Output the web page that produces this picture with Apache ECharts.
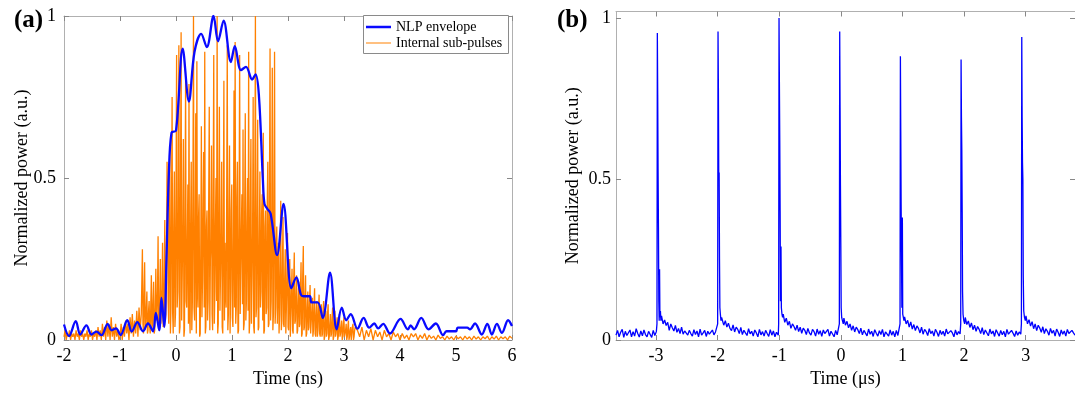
<!DOCTYPE html>
<html>
<head>
<meta charset="utf-8">
<script src="https://cdn.jsdelivr.net/npm/echarts@6/dist/echarts.min.js"></script>
<style>
html,body{margin:0;padding:0;background:#fff;}
#chart{width:1075px;height:393px;}
</style>
</head>
<body>
<div id="chart"></div>
<script>
// ---------- Panel (a): NLP envelope (time ns, normalized power) ----------
const envelope = [
  [-2.00,0.048],[-1.91,0.012],[-1.79,0.058],[-1.71,0.017],[-1.60,0.045],[-1.51,0.017],
  [-1.42,0.026],[-1.33,0.015],[-1.22,0.050],[-1.15,0.030],[-1.07,0.036],[-0.99,0.015],
  [-0.87,0.061],[-0.79,0.026],[-0.69,0.055],[-0.59,0.027],[-0.50,0.051],[-0.41,0.027],
  [-0.36,0.084],[-0.30,0.030],[-0.26,0.130],[-0.21,0.040],[-0.17,0.250],[-0.13,0.500],
  [-0.08,0.640],[0.00,0.646],[0.12,0.899],[0.23,0.736],[0.33,0.889],[0.45,0.945],
  [0.55,0.904],[0.67,1.000],[0.75,0.922],[0.85,0.986],[0.98,0.858],[1.05,0.907],
  [1.16,0.833],[1.25,0.843],[1.36,0.804],[1.42,0.820],[1.48,0.756],[1.55,0.500],
  [1.58,0.420],[1.63,0.405],[1.69,0.390],[1.805,0.262],[1.92,0.420],[2.06,0.160],
  [2.15,0.193],[2.23,0.140],[2.28,0.135],[2.39,0.135],[2.42,0.116],[2.53,0.116],
  [2.62,0.068],[2.75,0.208],[2.87,0.033],[2.96,0.100],[3.04,0.061],[3.12,0.080],
  [3.24,0.035],[3.35,0.068],[3.45,0.038],[3.54,0.051],[3.61,0.036],[3.70,0.050],
  [3.82,0.020],[4.01,0.065],[4.14,0.033],[4.19,0.045],[4.25,0.033],[4.38,0.068],
  [4.51,0.033],[4.64,0.051],[4.77,0.015],[4.83,0.027],[5.00,0.027],[5.03,0.038],
  [5.20,0.038],[5.25,0.033],[5.34,0.051],[5.46,0.017],[5.56,0.050],[5.64,0.017],
  [5.73,0.050],[5.82,0.022],[5.93,0.061],[6.00,0.043]
];

// ---------- Panel (a): internal sub-pulses, each segment spread evenly over its time range ----------
const subRanges = [[-2.00,-1.02],[-1.00,-0.62],[-0.60,-0.16],[-0.15,1.80],[1.81,3.20],[3.24,6.00]];
const subA = [0.01,0.03,0.00,0.02,0.01,0.03,0.00,0.02,0.01,0.02,0.00,0.03,0.01,0.02,0.00,0.03,0.01,
  0.02,0.00,0.02,0.01,0.03,0.00,0.02,0.01,0.03,0.00,0.02,0.01,0.03,0.00,0.04,0.01,0.03,0.00,0.05,
  0.01,0.04,0.00,0.06,0.01,0.05,0.00,0.07,0.01,0.04,0.00,0.05,0.01,0.03,0.00];
const subB1 = [0.01,0.05,0.00,0.04,0.01,0.06,0.02,0.05,0.00,0.07,0.02,0.08,0.01,0.06,0.02,0.09,
  0.01,0.10,0.03,0.08];
const subB2 = [0.28,0.05,0.02,0.14,0.24,0.03,0.05,0.10,0.15,0.02,0.03,0.09,0.12,0.04,0.02,0.11,
  0.20,0.03,0.05,0.12,0.18,0.02,0.03,0.10,0.22,0.06,0.08,0.15,0.32,0.03,0.04,0.13,0.25,0.05,
  0.10,0.16,0.30,0.04,0.05,0.20,0.37,0.06,0.08,0.25,0.55];
const subC = [0.45,0.12,0.05,0.38,0.60,0.02,0.10,0.42,0.75,0.08,0.02,0.35,0.52,0.04,0.08,0.46,
  0.88,0.10,0.15,0.40,0.91,0.02,0.04,0.50,0.95,0.06,0.20,0.35,0.62,0.01,0.03,0.44,0.80,0.12,
  0.10,0.30,0.48,0.05,0.79,0.08,0.02,0.36,0.55,0.03,0.12,0.47,1.00,0.10,0.06,0.33,0.70,0.02,
  0.86,0.15,0.10,0.38,0.45,0.01,0.02,0.30,0.66,0.07,0.18,0.42,0.58,0.10,0.89,0.02,0.04,0.35,
  0.40,0.06,0.12,0.43,0.72,0.03,0.25,0.31,0.60,0.08,0.03,0.47,0.88,0.05,0.15,0.36,0.50,0.12,
  1.00,0.02,0.05,0.41,0.72,0.09,0.20,0.33,0.55,0.04,0.02,0.39,0.80,0.06,0.30,0.14,0.10,0.45,
  0.91,0.03,0.08,0.37,0.60,0.02,0.15,0.40,0.48,0.07,0.04,0.32,0.77,0.10,0.92,0.05,0.10,0.44,
  0.55,0.02,0.03,0.38,0.88,0.08,0.22,0.34,0.45,0.11,0.65,0.03,0.05,0.42,0.70,0.06,0.12,0.36,
  0.50,0.09,0.89,0.02,0.06,0.40,0.62,0.05,0.18,0.33,0.75,0.04,0.02,0.46,1.00,0.07,0.10,0.37,
  0.68,0.03,0.04,0.31,0.52,0.10,0.15,0.39,0.45,0.06,0.64,0.02,0.03,0.35,0.40,0.08,0.10,0.42,
  0.55,0.04,0.05,0.48,0.90,0.06,0.12,0.38,0.84,0.03,0.08,0.44,0.89,0.05,0.10,0.30,0.35];
const subD = [0.05,0.18,0.30,0.02,0.08,0.25,0.43,0.03,0.06,0.22,0.38,0.05,0.04,0.19,0.28,0.02,
  0.10,0.21,0.33,0.04,0.03,0.17,0.25,0.01,0.08,0.15,0.22,0.03,0.02,0.19,0.27,0.05,0.06,0.14,
  0.20,0.02,0.03,0.12,0.18,0.04,0.05,0.16,0.24,0.01,0.02,0.20,0.29,0.03,0.04,0.13,0.20,0.01,
  0.02,0.10,0.15,0.03,0.04,0.12,0.17,0.02,0.02,0.09,0.13,0.01,0.03,0.11,0.16,0.02,0.01,0.08,
  0.12,0.01,0.03,0.10,0.14,0.02,0.01,0.07,0.11,0.01,0.02,0.09,0.12,0.00,0.01,0.06,0.09,0.01,
  0.02,0.08,0.11,0.00,0.01,0.05,0.08,0.01,0.02,0.07,0.10,0.00,0.01,0.06,0.09,0.01,0.02,0.05,
  0.07,0.00,0.01,0.05,0.08,0.01,0.02,0.04,0.06,0.00,0.01,0.05,0.07,0.01,0.02,0.03,0.05,0.00,
  0.01,0.04,0.06,0.00,0.01,0.03,0.04,0.00,0.02,0.04,0.05,0.00,0.01,0.03,0.04];
const subE = [0.03,0.01,0.04,0.00,0.03,0.01,0.035,0.00,0.03,0.01,
  0.025,0.00,0.03,0.01,0.02,0.00,0.025,0.01,0.02,0.00,
  0.02,0.005,0.015,0.00,0.02,0.01,0.02,0.00,0.015,0.005,
  0.02,0.00,0.015,0.005,0.012,0.00,0.015,0.005,0.01,0.00,
  0.012,0.003,0.01,0.00,0.012,0.004,0.01,0.00,0.012,0.003,
  0.01,0.00,0.012,0.003,0.01,0.00,0.01,0.004,0.012,0.00,
  0.01,0.003,0.012,0.00,0.01,0.004,0.01,0.00,0.012,0.005];

// ---------- Panel (b): pulse train (time µs) ----------
const pulseStarts = [-2.985,-2.0,-1.01,-0.025,0.96,1.945,2.93];
// [offset µs from pulse start, power]
const pulse1 = [[-0.006,0.02],[0,0.05],[0.006,0.953],[0.012,0.76],[0.018,0.53],[0.024,0.35],[0.03,0.12],[0.036,0.06],[0.042,0.22],[0.048,0.07],[0.056,0.09],[0.064,0.06]];
const pulse2 = [[-0.006,0.02],[0,0.05],[0.006,0.958],[0.012,0.78],[0.018,0.50],[0.024,0.52],[0.03,0.25],[0.036,0.10],[0.044,0.08],[0.054,0.06],[0.064,0.07]];
const pulse3 = [[-0.006,0.015],[0,0.05],[0.006,1.0],[0.012,0.80],[0.018,0.62],[0.024,0.40],[0.03,0.12],[0.038,0.29],[0.044,0.10],[0.054,0.08],[0.064,0.07]];
const pulse4 = [[-0.006,0.02],[0,0.05],[0.006,0.958],[0.012,0.72],[0.018,0.48],[0.024,0.30],[0.03,0.10],[0.038,0.07],[0.05,0.06],[0.064,0.05]];
const pulse5 = [[-0.006,0.02],[0,0.05],[0.006,0.881],[0.012,0.65],[0.018,0.42],[0.024,0.25],[0.03,0.10],[0.038,0.38],[0.044,0.08],[0.054,0.07],[0.064,0.06]];
const pulse6 = [[-0.006,0.02],[0,0.05],[0.006,0.871],[0.012,0.69],[0.018,0.59],[0.024,0.40],[0.03,0.15],[0.038,0.08],[0.05,0.06],[0.064,0.05]];
const pulse7 = [[-0.006,0.02],[0,0.05],[0.006,0.941],[0.012,0.69],[0.018,0.55],[0.024,0.50],[0.03,0.20],[0.038,0.09],[0.05,0.07],[0.064,0.06]];
// background between pulses (each spread evenly over its gap)
const base0 = [0.015,0.03,0.01,0.024,0.033,0.008,0.027,0.014,0.019,0.031,0.01,0.026,0.012,0.035,0.02,0.009,0.028,0.013,0.031,0.017,0.01,0.027,0.022,0.008,0.03,0.014,0.026];
const gap1 = [0.075,0.05,0.062,0.045,0.055,0.03,0.05,0.038,0.028,0.045,0.024,0.036,0.02,0.04,0.018,0.028,0.033,0.015,0.03,0.02,0.012,0.032,0.017,0.028,0.01,0.034,0.015,0.022,0.03,0.011,0.027,0.018,0.013,0.031,0.016,0.025,0.02];
const gap2 = [0.07,0.046,0.06,0.04,0.052,0.036,0.029,0.047,0.025,0.04,0.033,0.02,0.039,0.017,0.03,0.025,0.014,0.035,0.019,0.027,0.012,0.031,0.022,0.01,0.033,0.016,0.026,0.012,0.03,0.02,0.011,0.032,0.015,0.028,0.01,0.024,0.018];
const gap3 = [0.08,0.055,0.068,0.046,0.058,0.036,0.05,0.042,0.03,0.046,0.026,0.04,0.021,0.037,0.03,0.017,0.036,0.022,0.015,0.033,0.026,0.012,0.034,0.018,0.029,0.011,0.031,0.02,0.014,0.033,0.012,0.027,0.022,0.01,0.03,0.016,0.02];
const gap4 = [0.068,0.046,0.058,0.038,0.05,0.03,0.044,0.025,0.04,0.032,0.02,0.037,0.016,0.03,0.024,0.013,0.034,0.018,0.027,0.011,0.032,0.021,0.012,0.029,0.017,0.033,0.01,0.025,0.019,0.012,0.031,0.015,0.027,0.01,0.03,0.014,0.018];
const gap5 = [0.072,0.05,0.061,0.04,0.056,0.034,0.048,0.029,0.044,0.036,0.022,0.04,0.018,0.033,0.026,0.014,0.035,0.02,0.028,0.012,0.033,0.024,0.011,0.03,0.017,0.027,0.012,0.034,0.019,0.013,0.029,0.022,0.01,0.031,0.016,0.026,0.019];
const gap6 = [0.07,0.048,0.059,0.039,0.053,0.032,0.046,0.027,0.042,0.033,0.02,0.038,0.017,0.031,0.025,0.013,0.034,0.019,0.028,0.011,0.032,0.022,0.012,0.03,0.016,0.027,0.01,0.033,0.018,0.014,0.03,0.021,0.011,0.028,0.015,0.025,0.018];
const tail7 = [0.075,0.05,0.063,0.043,0.057,0.035,0.05,0.029,0.046,0.037,0.024,0.041,0.02,0.035,0.027,0.015,0.036,0.021,0.03,0.012,0.034,0.024,0.011,0.031,0.018,0.028,0.012,0.033,0.02,0.014,0.03,0.022,0.015];
const trainStart = -3.65, trainEnd = 3.80;

const xTicksB = [-3,-2,-1,0,1,2,3];
const yTicks = [0,0.5,1];

// ---------- build series data ----------
function spread(vals, t0, t1){
  const n = vals.length;
  return vals.map((v,i)=>[t0 + (t1-t0)*i/(n-1), v]);
}
const subSegs = [subA,subB1,subB2,subC,subD,subE];
let subData = [];
subSegs.forEach((s,k)=>{ subData = subData.concat(spread(s, subRanges[k][0], subRanges[k][1])); });

const pulses = [pulse1,pulse2,pulse3,pulse4,pulse5,pulse6,pulse7];
const gaps = [gap1,gap2,gap3,gap4,gap5,gap6,tail7];
let train = spread(base0, trainStart, pulseStarts[0]-0.01);
pulses.forEach((p,k)=>{
  const t0 = pulseStarts[k];
  p.forEach(d=>train.push([t0+d[0], d[1]]));
  const gStart = t0 + 0.074;
  const gEnd = (k < pulses.length-1) ? pulseStarts[k+1]-0.01 : trainEnd;
  train = train.concat(spread(gaps[k], gStart, gEnd));
});

const FONT = 'Liberation Serif';
const AX = '#b0b0b0';
function xAx(grid, min, max, name, opts){
  return Object.assign({
    gridIndex: grid, type:'value', min:min, max:max,
    axisLine:{show:true, onZero:false, lineStyle:{color:AX, width:1}},
    axisTick:{show:true, inside:true, length:5, lineStyle:{color:'#888'}},
    axisLabel:{color:'#000', fontFamily:FONT, fontSize:18, margin:7},
    splitLine:{show:false},
    name:name, nameLocation:'middle', nameGap:30, nameMoveOverlap:false,
    nameTextStyle:{color:'#000', fontFamily:FONT, fontSize:18}
  }, opts||{});
}
function yAx(grid, min, max, opts){
  return Object.assign({
    gridIndex: grid, type:'value', min:min, max:max,
    axisLine:{show:true, onZero:false, lineStyle:{color:AX, width:1}},
    axisTick:{show:true, inside:true, length:5, lineStyle:{color:'#888'}},
    axisLabel:{color:'#000', fontFamily:FONT, fontSize:18, margin:8},
    splitLine:{show:false},
    name:'Normalized power (a.u.)', nameLocation:'middle', nameGap:33, nameRotate:90,
    nameMoveOverlap:false,
    nameTextStyle:{color:'#000', fontFamily:FONT, fontSize:18}
  }, opts||{});
}

const legendText = {fontFamily:FONT, fontSize:14, color:'#000'};
const chart = echarts.init(document.getElementById('chart'), null, {renderer:'canvas'});
chart.setOption({
  animation:false,
  backgroundColor:'#fff',
  title:[
    {text:'(a)', left:9, top:3, textStyle:{fontFamily:FONT, fontSize:25, fontWeight:'bold', color:'#000'}},
    {text:'(b)', left:552, top:3, textStyle:{fontFamily:FONT, fontSize:25, fontWeight:'bold', color:'#000'}}
  ],
  graphic:[
    {type:'rect', left:363, top:15, z:50, shape:{width:145, height:38},
     style:{fill:'#fff', stroke:'#8a8a8a', lineWidth:1}}
  ],
  legend:[
    {data:['NLP envelope'], left:366, top:20, icon:'rect', itemWidth:25, itemHeight:2.5,
     itemGap:4, padding:0, z:60, textStyle:legendText},
    {data:['Internal sub-pulses'], left:366, top:36, icon:'rect', itemWidth:25, itemHeight:1,
     itemGap:4, padding:0, z:60, textStyle:legendText}
  ],
  grid:[
    {left:64, top:16, width:448, height:328},
    {left:616, top:11.5, width:463, height:332.5}
  ],
  xAxis:[
    xAx(0,-2,6,'Time (ns)',{interval:1}),
    xAx(0,-2,6,'',{interval:1, position:'top', axisLabel:{show:false}}),
    xAx(1,trainStart,trainEnd,'Time (μs)',{
      axisTick:{show:true, inside:true, length:5, lineStyle:{color:'#888'}, customValues:xTicksB},
      axisLabel:{color:'#000', fontFamily:FONT, fontSize:18, margin:7, customValues:xTicksB}}),
    xAx(1,trainStart,trainEnd,'',{position:'top',
      axisTick:{show:true, inside:true, length:5, lineStyle:{color:'#888'}, customValues:xTicksB},
      axisLabel:{show:false}})
  ],
  yAxis:[
    yAx(0,0,1,{interval:0.5}),
    yAx(0,0,1,{interval:0.5, position:'right', name:'', axisLabel:{show:false}}),
    yAx(1,0,1.02,{nameGap:34,
      axisTick:{show:true, inside:true, length:5, lineStyle:{color:'#888'}, customValues:yTicks},
      axisLabel:{color:'#000', fontFamily:FONT, fontSize:18, margin:5, customValues:yTicks}}),
    yAx(1,0,1.02,{position:'right', name:'',
      axisTick:{show:true, inside:true, length:5, lineStyle:{color:'#888'}, customValues:yTicks},
      axisLabel:{show:false}})
  ],
  series:[
    {name:'Internal sub-pulses', type:'line', xAxisIndex:0, yAxisIndex:0, data:subData,
     symbol:'none', lineStyle:{color:'#ff8000', width:1.3}, itemStyle:{color:'#ff8000'}, z:2},
    {name:'NLP envelope', type:'line', xAxisIndex:0, yAxisIndex:0, data:envelope,
     symbol:'none', smooth:0.35, lineStyle:{color:'#0a0aff', width:2.3}, itemStyle:{color:'#0a0aff'}, z:3},
    {name:'Pulse train', type:'line', xAxisIndex:2, yAxisIndex:2, data:train,
     symbol:'none', lineStyle:{color:'#0000ff', width:1.3}, itemStyle:{color:'#0000ff'}, z:2}
  ]
});
</script>
</body>
</html>
